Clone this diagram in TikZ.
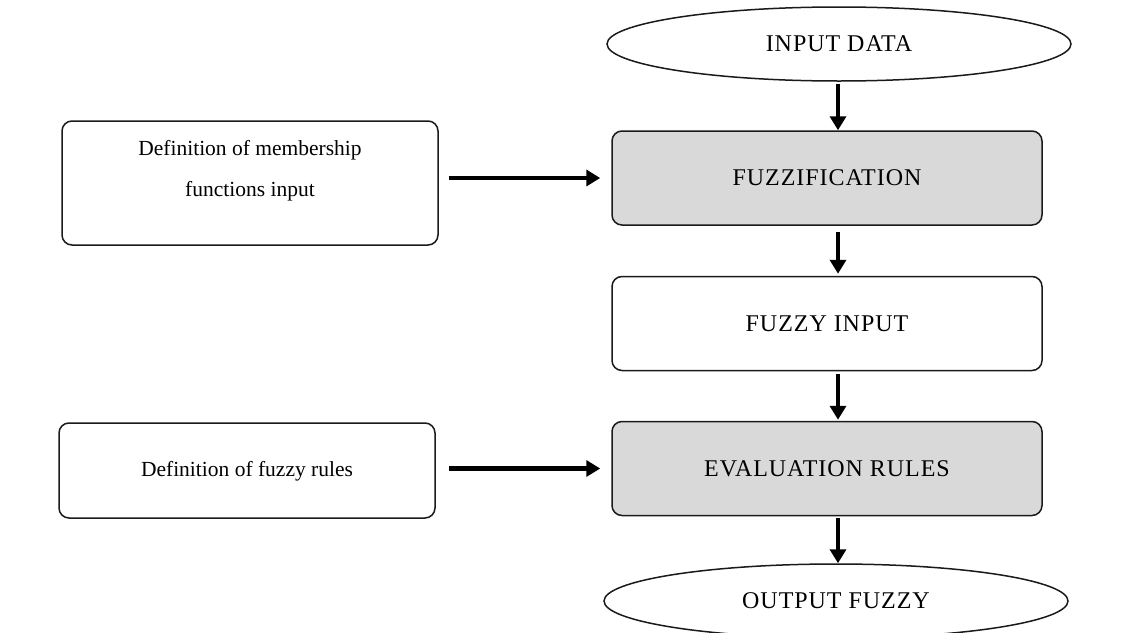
\documentclass[tikz,border=0pt]{standalone}
\usepackage{fontspec}
\setmainfont{Liberation Serif}
\usetikzlibrary{arrows.meta,shapes.geometric}
\definecolor{boxgrey}{HTML}{D9D9D9}
\definecolor{ink}{HTML}{1A1A1A}
\begin{document}
\begin{tikzpicture}[x=1pt,y=-1pt,
  capfont/.style={font=\fontsize{24}{28}\selectfont\addfontfeature{LetterSpace=4}},
  mainbox/.style={draw=ink, line width=1.5pt, rounded corners=10pt, minimum width=430pt,
    minimum height=94pt, inner sep=0pt, capfont},
  greybox/.style={mainbox, fill=boxgrey},
  oval/.style={draw=ink, line width=1.5pt, ellipse, minimum width=464pt, minimum height=74pt,
    inner sep=0pt, capfont},
  sidebox/.style={draw=ink, line width=1.5pt, rounded corners=10pt, minimum width=376pt, inner sep=0pt},
  sidetext/.style={align=center, inner sep=0pt, font=\fontsize{21.5}{41}\selectfont},
  arr/.style={draw=black, line width=4.5pt, -{Triangle[length=14pt,width=16pt]}}
]
\useasboundingbox (0,0) rectangle (1140,632);
\clip (0,0) rectangle (1140,632);
\fill[white] (0,0) rectangle (1140,632);

% main column
\node[oval]    (in)   at (839,44)    {INPUT DATA};
\node[greybox] (fuzz) at (827,178)   {FUZZIFICATION};
\node[mainbox] (fin)  at (827,323.5) {FUZZY INPUT};
\node[greybox] (eval) at (827,468.5) {EVALUATION RULES};
\node[oval]    (out)  at (836,601)   {OUTPUT FUZZY};

% side boxes
\node[sidebox, minimum height=124pt] (def1) at (250,183) {};
\node[sidetext] (def1t) at (250,171) {Definition of membership\\functions input};
\node[sidebox, minimum height=95pt] (def2) at (247,470.5) {};
\node[sidetext] (def2t) at (247,471) {Definition of fuzzy rules};

% vertical arrows
\draw[arr, shorten <=2pt] (in.south -| 838,0) -- (fuzz.north -| 838,0);
\draw[arr, shorten <=6pt, shorten >=2pt] (fuzz.south -| 838,0) -- (fin.north -| 838,0);
\draw[arr, shorten <=3pt, shorten >=1pt] (fin.south -| 838,0) -- (eval.north -| 838,0);
\draw[arr, shorten <=2pt] (eval.south -| 838,0) -- (out.north -| 838,0);

% horizontal arrows
\draw[arr, shorten <=10pt, shorten >=11pt] (def1.east |- fuzz.west) -- (fuzz.west);
\draw[arr, shorten <=13pt, shorten >=11pt] (def2.east |- eval.west) -- (eval.west);
\end{tikzpicture}
\end{document}
